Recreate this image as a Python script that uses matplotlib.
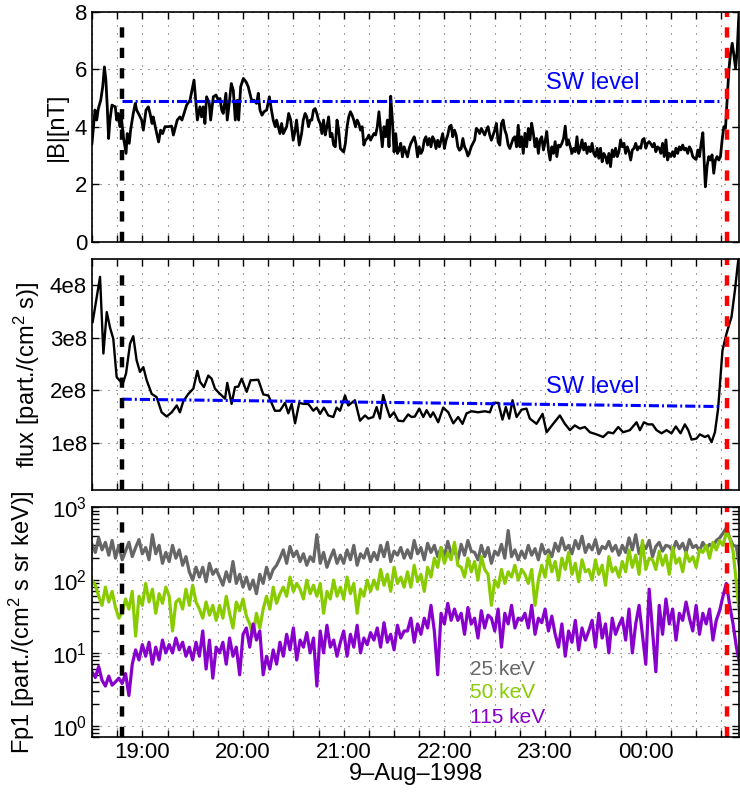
import datetime as dt
import numpy as np
import matplotlib
matplotlib.use('Agg')
import matplotlib.pyplot as plt
import matplotlib.dates as mdates
from matplotlib.ticker import NullFormatter, LogLocator, FixedLocator

plt.rcParams['font.family'] = ['Liberation Sans', 'DejaVu Sans']
plt.rcParams['mathtext.fontset'] = 'custom'
plt.rcParams['mathtext.rm'] = 'Liberation Sans'
plt.rcParams['mathtext.it'] = 'Liberation Sans:italic'

# ---- data (time in minutes after 18:30 UT, 9 Aug 1998) ----
# |B| [nT]
b_min_1 = [0.0, 1.8, 2.8, 3.8, 5.2, 6.4, 7.4, 8.3, 9.1, 9.9, 10.7, 11.9, 13.9, 14.7, 15.7, 16.7,
           17.5, 18.7, 19.7, 20.3, 21.0, 22.2, 23.0, 24.6, 25.8, 26.6, 28.2, 29.6, 30.6, 32.2,
           33.6, 34.6, 35.8, 36.5, 37.7, 39.7, 40.9, 42.1, 43.5, 45.5, 47.5, 48.5, 50.8, 52.4,
           53.6, 56.4, 58.4, 60.8, 62.0, 62.8, 64.3, 65.3, 66.3, 67.3, 68.3, 69.9, 70.7, 72.3,
           73.9, 75.3, 76.3, 77.3, 78.2, 79.8, 80.6, 81.8, 83.0, 84.2, 85.4, 86.6, 87.4, 88.6,
           90.2, 91.8, 93.1, 95.1, 96.5, 98.1, 99.1, 100.1, 101.3, 102.5, 104.1, 105.7, 106.8,
           108.0, 109.2, 110.0, 111.0, 112.0, 113.0, 114.0, 116.0, 117.2, 118.4, 119.9, 121.1,
           121.9, 123.5, 124.9, 125.9]
b_val_1 = [3.43, 4.59, 4.24, 4.64, 4.93, 5.40, 6.09, 5.63, 4.70, 3.60, 4.24, 4.76, 4.70, 4.24,
           4.47, 4.01, 4.35, 3.66, 3.31, 3.08, 3.77, 3.43, 3.89, 4.47, 4.82, 4.59, 4.41, 4.24,
           3.89, 4.59, 4.70, 4.47, 4.12, 4.35, 4.01, 3.48, 3.89, 3.77, 4.01, 4.01, 4.03, 3.72,
           4.24, 4.35, 4.24, 4.76, 4.93, 5.63, 4.82, 4.24, 4.70, 4.35, 4.70, 4.12, 5.05, 4.82,
           4.24, 5.05, 5.11, 4.93, 4.99, 4.59, 4.47, 5.17, 4.24, 4.82, 5.51, 5.28, 4.24, 4.93,
           4.24, 5.40, 5.69, 5.57, 5.40, 4.93, 4.93, 4.82, 5.17, 4.59, 4.41, 4.53, 4.59, 5.05,
           4.64, 4.24, 4.01, 4.24, 4.01, 3.77, 4.12, 3.77, 4.01, 4.47, 4.24, 3.54, 3.89, 4.24,
           3.37, 3.77, 4.24]
# one-minute samples from 20:37 to 22:44
b_val_2 = [4.47, 4.35, 4.01, 4.24, 4.24, 4.59, 4.64, 4.47, 4.24, 4.12, 3.77, 4.24, 3.72, 4.01,
           4.35, 3.66, 3.77, 3.37, 3.31, 4.24, 3.89, 3.25, 3.19, 3.13, 3.43, 4.01, 4.35, 4.53,
           4.41, 4.24, 4.01, 4.24, 4.12, 3.89, 4.01, 3.37, 3.54, 3.60, 3.72, 3.54, 3.66, 3.77,
           3.72, 4.01, 4.53, 3.89, 3.31, 4.01, 3.66, 4.24, 3.31, 5.07, 4.24, 3.13, 3.77, 3.08,
           3.19, 3.43, 2.96, 3.31, 3.13, 2.96, 3.25, 3.43, 3.54, 3.66, 3.43, 2.96, 3.31, 3.08,
           3.19, 3.54, 3.66, 3.37, 3.60, 3.31, 3.66, 3.54, 3.25, 3.54, 3.31, 3.54, 3.77, 3.25,
           3.54, 3.72, 4.01, 4.06, 3.66, 3.89, 3.72, 3.31, 3.19, 3.25, 3.60, 3.31, 3.19, 2.99,
           3.13, 3.31, 3.43, 3.54, 3.95, 3.89, 3.77, 3.95, 3.83, 3.72, 3.89, 4.01, 3.72, 3.54,
           3.72, 3.89, 4.12, 3.48, 3.37, 4.12, 4.24, 3.89, 3.72, 3.37, 3.25, 3.43, 3.60, 3.66,
           3.31, 4.06]
# one-minute samples from 22:45 to 00:34
b_val_3 = [3.31, 3.66, 3.08, 3.78, 3.31, 3.95, 3.55, 4.13, 3.78, 3.31, 3.60, 3.08, 3.55, 3.66,
           3.20, 3.49, 3.84, 3.20, 2.85, 3.31, 3.08, 3.49, 2.97, 3.37, 3.31, 3.43, 3.60, 4.03,
           3.37, 3.55, 3.31, 3.08, 3.26, 3.14, 3.66, 3.08, 3.26, 3.55, 3.20, 3.43, 3.08, 3.31,
           3.14, 3.43, 3.08, 2.97, 3.26, 2.91, 3.26, 2.79, 3.08, 2.97, 2.74, 3.08, 2.62, 3.20,
           2.97, 3.26, 2.97, 3.14, 3.55, 3.31, 3.43, 3.08, 3.31, 3.14, 2.85, 3.20, 3.26, 3.43,
           3.20, 3.31, 3.26, 3.55, 3.60, 3.26, 3.43, 3.49, 3.41, 3.31, 3.43, 3.14, 3.31, 3.26,
           3.08, 3.43, 2.97, 3.55, 2.85, 3.08, 2.97, 3.14, 2.97, 3.26, 3.08, 3.31, 3.20, 3.37,
           3.20, 3.26, 3.08, 3.31, 3.20, 2.97, 2.91, 2.87, 3.20, 2.97, 3.43, 3.80]
b_min_4 = [365.5, 366.5, 367.5, 368.5, 369.5, 370.5, 371.5, 372.5, 373.5, 374.5, 375.5, 376.5,
           377.5, 378.5, 379.5, 380.5, 381.5, 382.5, 383.5, 384.5, 385.3, 385.9]
b_val_4 = [1.92, 2.62, 2.97, 2.85, 3.03, 2.39, 2.85, 2.97, 2.85, 2.97, 3.55, 4.01, 3.95, 4.94,
           5.98, 6.56, 6.91, 6.50, 6.04, 6.68, 7.72, 8.30]

# proton flux [part./(cm^2 s)], in units of 1e8
f_min = [0.4, 4.8, 6.8, 8.8, 10.7, 12.7, 14.7, 18.3, 20.3, 22.7, 24.6, 26.6, 28.6, 30.6, 32.6,
         35.6, 38.5, 41.5, 44.5, 47.5, 50.5, 52.4, 54.4, 57.4, 60.4, 62.8, 64.4, 66.7, 69.3,
         71.3, 73.3, 76.3, 79.3, 80.6, 83.2, 85.2, 87.2, 89.2, 92.2, 94.5, 99.1, 102.1, 105.1,
         109.0, 112.0, 115.0, 117.0, 119.0, 121.0, 123.5, 126.0, 128.9, 131.9, 133.9, 135.9,
         138.2, 140.8, 143.8, 145.8, 147.8, 150.8, 152.7, 156.7, 159.7, 162.7, 164.7,
         167.6, 169.6, 171.6, 173.5, 175.5, 177.5, 179.9, 182.5, 185.5, 188.4, 190.4, 192.4,
         195.0, 197.4, 199.4, 201.7, 203.3, 206.3, 209.3, 212.3, 215.3, 218.2, 220.8, 223.2,
         226.2, 230.1, 234.1, 237.1, 239.1, 242.1, 244.6, 246.6, 248.6, 250.6, 253.0, 256.0,
         258.9, 260.9, 264.9, 268.5, 270.9, 274.8, 278.8, 281.8, 284.8, 287.7, 290.7, 293.7,
         296.7, 300.6, 304.6, 307.6, 310.6, 313.6, 316.5, 320.5, 324.5, 326.5, 328.9, 331.4,
         334.0, 336.4, 339.4, 342.4, 345.3, 347.9, 350.7, 353.3, 355.3, 357.3, 360.2, 362.2,
         365.2, 367.2, 369.2, 371.2, 373.1, 375.7, 378.1, 381.1, 383.1, 385.1, 386.4]
f_val = [3.30, 4.16, 2.70, 3.49, 3.20, 2.98, 2.25, 2.12, 2.32, 2.89, 3.03, 2.57, 2.35, 2.44,
         2.19, 1.93, 1.87, 1.58, 1.50, 1.58, 1.71, 1.58, 1.79, 1.93, 2.03, 2.37, 2.16, 2.06,
         2.28, 2.22, 2.03, 1.93, 1.84, 2.14, 1.74, 2.06, 2.07, 2.22, 1.97, 2.19, 2.20, 1.92,
         1.90, 1.61, 1.61, 1.76, 1.56, 1.74, 1.37, 1.76, 1.74, 1.74, 1.61, 1.67, 1.55, 1.67,
         1.52, 1.49, 1.67, 1.61, 1.90, 1.71, 1.81, 1.42, 1.52, 1.46,
         1.49, 1.68, 1.46, 1.91, 1.68, 1.49, 1.58, 1.42, 1.41, 1.54, 1.49, 1.50, 1.65, 1.49,
         1.62, 1.49, 1.58, 1.39, 1.67, 1.58, 1.37, 1.49, 1.36, 1.56, 1.60, 1.58, 1.60, 1.58,
         1.76, 1.76, 1.44, 1.68, 1.46, 1.81, 1.49, 1.63, 1.65, 1.46, 1.36, 1.55, 1.20, 1.36,
         1.52, 1.36, 1.24, 1.33, 1.27, 1.30, 1.20, 1.16, 1.11, 1.20, 1.18, 1.30, 1.20, 1.24,
         1.39, 1.24, 1.39, 1.35, 1.35, 1.24, 1.18, 1.24, 1.18, 1.31, 1.18, 1.35, 1.24, 1.06,
         1.08, 1.16, 1.11, 1.14, 1.01, 1.20, 1.65, 2.76, 3.08, 3.40, 3.90, 4.48, 4.67]

# Fp1 channels, 2-minute samples from 18:30
e25 = [310, 240, 380, 260, 330, 220, 350, 200, 300, 190, 250, 330, 210, 280, 360, 230,
       280, 190, 420, 230, 300, 170, 240, 180, 300, 200, 260, 160, 210, 130, 100, 150, 110,
       150, 95, 170, 120, 140, 110, 85, 130, 95, 180, 90, 120, 80, 110, 75, 100, 65,
       120, 90, 150, 105, 140, 160, 200, 260, 170, 290, 210, 250, 180, 230, 160, 210,
       180, 420, 170, 240, 150, 200, 260, 170, 220, 170, 260, 190, 300, 160, 230, 200, 270, 180,
       240, 190, 300, 210, 330, 180, 250, 220, 280, 200, 260, 200, 350, 230, 280, 190, 320, 240,
       300, 210, 280, 210, 340, 230, 260, 190, 310, 220, 350, 250, 240, 190, 300, 210, 280, 170,
       250, 220, 310, 200, 480, 210, 260, 190, 250, 200, 300, 220, 270, 190, 310, 230, 260, 210,
       320, 250, 380, 260, 300, 230, 350, 270, 400, 240, 310, 260, 360, 230, 290, 270, 340, 250,
       300, 220, 300, 240, 380, 260, 420, 230, 310, 270, 350, 210, 290, 330, 250, 300,
       290, 250, 340, 270, 320, 240, 360, 280, 300, 250, 330, 270, 310, 290, 350,
       380, 440, 520, 380, 300, 290, 140]
e50 = [100, 85, 60, 45, 80, 50, 70, 42, 30, 36, 55, 40, 70, 17, 60, 45, 90, 50, 75, 35, 65,
       48, 80, 60, 20, 50, 55, 40, 75, 45, 85, 50, 40, 30, 50, 33, 45, 28, 45, 30, 60, 35,
       22, 50, 38, 55, 32, 25, 17, 35, 22, 40, 60, 40, 80, 48, 65, 80, 60, 110, 70, 90,
       75, 55, 100, 65, 85, 60, 90, 35, 70, 55, 100, 60, 80, 55, 110, 65, 90, 35, 75, 60, 100, 70,
       100, 75, 140, 85, 120, 70, 150, 90, 110, 80, 130, 80, 160, 95, 120, 70, 150, 110,
       200, 150, 280, 170, 240, 190, 330, 160, 150, 110, 200, 130, 180, 100, 210, 140,
       120, 45, 100, 80, 140, 90, 130, 110, 160, 100, 140, 120, 90, 140, 45, 100,
       160, 110, 220, 130, 180, 100, 200, 140, 240, 120, 170, 95, 190, 130,
       140, 100, 190, 120, 160, 85, 210, 130, 150, 110, 180, 130, 260, 150, 220, 120, 350, 140, 200,
       190, 140, 250, 160, 220, 120, 280, 170, 200, 130, 240, 180, 210, 150, 260,
       240, 300, 200, 330, 260, 350, 300, 450, 380, 250, 90, 30]
e115 = [5.5, 4.6, 6.5, 4.2, 3.5, 4.8, 3.6, 4.0, 4.5, 3.8, 5.2, 2.6, 7, 11, 8, 13,
        9, 14, 7, 12, 8, 15, 10, 13, 10, 16, 11, 14, 9, 12, 8, 14, 9, 20, 6, 15, 4.5, 12,
        10, 14, 7, 16, 9, 12, 5, 18, 22, 12, 25, 15, 20, 5, 9, 6, 11, 7,
        14, 9, 18, 11, 22, 8, 15, 12, 19, 10, 16, 3.5, 20, 10, 24, 12, 15, 9,
        14, 20, 9, 18, 12, 24, 10, 16, 13, 19, 15, 22, 12, 26, 14, 18, 11, 24, 16, 20,
        20, 30, 14, 25, 18, 30, 22, 45, 20, 5, 35, 25, 48, 28, 40,
        28, 35, 18, 42, 25, 30, 16, 38, 22, 33, 30, 20, 40, 12, 35, 25, 45, 22, 30, 28,
        35, 22, 45, 18, 30, 26, 40, 20, 32, 18, 12, 25, 9, 20, 14, 28, 11, 22, 15,
        20, 28, 12, 35, 16, 25, 10, 30, 18, 24, 30, 15, 40, 10, 25, 45, 18, 7, 75, 20,
        5.5, 45, 18, 55, 25, 40, 15, 35, 28, 50, 30, 20, 45, 18, 35, 25, 40, 15, 28, 38,
        60, 90, 45, 25, 12, 7]

ev_min = 18.0      # black dashed line
shock_min = 378.6  # red dashed line
sw_b = [4.9, 4.9]
sw_f = [1.83, 1.69]
sw_min = [17.7, 374.5]

# ---- helpers ----
t0 = mdates.date2num(dt.datetime(1998, 8, 9, 18, 30))


def tnum(m):
    return t0 + np.asarray(m, dtype=float) / 1440.0


b_min = list(b_min_1) + list(np.arange(127, 127 + len(b_val_2))) + \
    list(np.arange(255, 255 + len(b_val_3))) + list(b_min_4)
b_val = b_val_1 + b_val_2 + b_val_3 + b_val_4
e_min = np.arange(0, 2 * len(e25), 2)

fig = plt.figure(figsize=(7.4, 7.97), dpi=100)
L, W = 0.1243, 0.8747
ax1 = fig.add_axes([L, 0.6964, W, 0.2886])
ax2 = fig.add_axes([L, 0.3852, W, 0.2898])
ax3 = fig.add_axes([L, 0.0753, W, 0.2882])

grid_kw = dict(color='0.25', lw=0.8, ls=(0, (0.9, 6.3)))
for ax in (ax1, ax2, ax3):
    ax.set_xlim(tnum(0), tnum(385.7))
    ax.xaxis.set_major_locator(mdates.HourLocator())
    ax.xaxis.set_minor_locator(mdates.MinuteLocator(byminute=[15, 30, 45]))
    ax.tick_params(which='both', direction='in', top=True, right=True,
                   length=5, width=1.0, labelsize=16)
    ax.xaxis.grid(True, which='both', **grid_kw)
    ax.yaxis.grid(True, which='major', **grid_kw)
    for s in ax.spines.values():
        s.set_linewidth(1.2)

# panel 1
ax1.plot(tnum(b_min), b_val, color='k', lw=2.0)
ax1.plot(tnum(sw_min), sw_b, color='b', lw=2.2, ls=(0, (3.3, 1.0, 0.65, 1.0)))
ax1.text(tnum(270.3), 5.53, 'SW level', color='b', fontsize=17, va='center', ha='left')
ax1.set_ylim(0, 8)
ax1.set_yticks([0, 2, 4, 6, 8])
ax1.xaxis.set_major_formatter(NullFormatter())
ax1.set_ylabel('|B|[nT]', fontsize=17)
ax1.yaxis.set_label_coords(-0.038, 0.5)

# panel 2
ax2.plot(tnum(f_min), np.array(f_val) * 1e8, color='k', lw=1.7)
ax2.plot(tnum(sw_min), np.array(sw_f) * 1e8, color='b', lw=2.2, ls=(0, (3.3, 1.0, 0.65, 1.0)))
ax2.text(tnum(270.3), 2.06e8, 'SW level', color='b', fontsize=17, va='center', ha='left')
ax2.set_ylim(0.1e8, 4.5e8)
ax2.set_yticks([1e8, 2e8, 3e8, 4e8])
ax2.set_yticklabels(['1e8', '2e8', '3e8', '4e8'])
ax2.xaxis.set_major_formatter(NullFormatter())
ax2.set_ylabel('flux [part./(cm$^2$ s)]', fontsize=17)
ax2.yaxis.set_label_coords(-0.077, 0.5)

# panel 3
ax3.plot(tnum(e_min), e25, color='#666666', lw=2.3)
ax3.plot(tnum(e_min), e50, color='#88cc00', lw=2.3)
ax3.plot(tnum(e_min), e115, color='#8800cc', lw=2.3)
ax3.set_yscale('log')
ax3.set_ylim(0.7, 1000)
ax3.yaxis.set_major_locator(LogLocator(base=10))
ax3.yaxis.set_minor_locator(LogLocator(base=10, subs=np.arange(2, 10)))
ax3.yaxis.set_minor_formatter(NullFormatter())
ax3.xaxis.set_major_formatter(mdates.DateFormatter('%H:%M'))
ax3.set_xlabel('9\u2013Aug\u20131998', fontsize=17, labelpad=0)
ax3.set_ylabel('Fp1 [part./(cm$^2$ s sr keV)]', fontsize=17)
ax3.yaxis.set_label_coords(-0.085, 0.5)
ax3.text(0.584, 0.292, '25 keV', color='#666666', fontsize=15, transform=ax3.transAxes, va='center')
ax3.text(0.584, 0.192, '50 keV', color='#88cc00', fontsize=15, transform=ax3.transAxes, va='center')
ax3.text(0.584, 0.087, '115 keV', color='#8800cc', fontsize=15, transform=ax3.transAxes, va='center')

for ax in (ax1, ax2, ax3):
    ax.axvline(tnum(ev_min), ymax=0.952, color='k', lw=3.2, ls=(0, (2.3, 2.3)))
    ax.axvline(tnum(shock_min), color='r', lw=3.2, ls=(0, (2.3, 2.3)))

fig.savefig('out.png', dpi=100)
